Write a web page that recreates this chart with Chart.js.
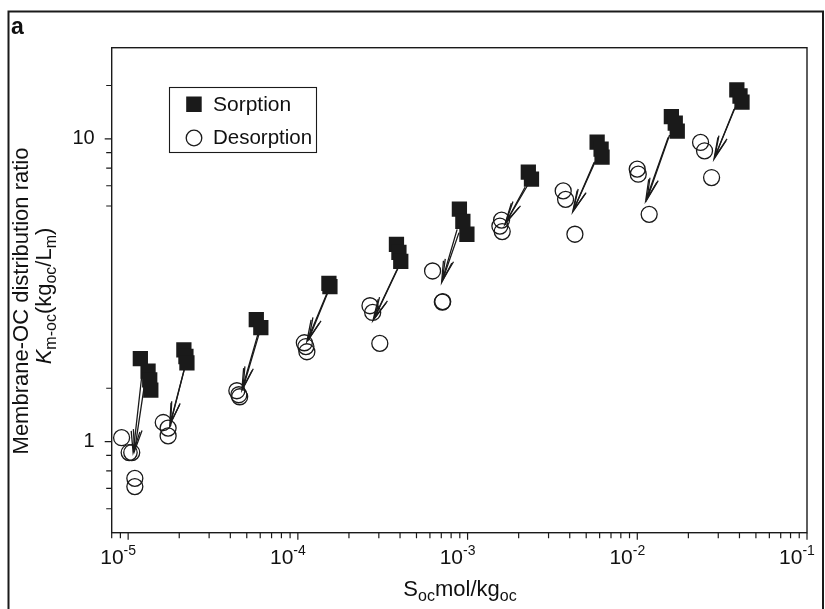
<!DOCTYPE html>
<html lang="en">
<head>
    <meta charset="UTF-8">
    <title>Membrane-OC distribution ratio</title>
    <script src="https://cdn.jsdelivr.net/npm/chart.js"></script>
    <style>
        body {
            margin: 0;
            background: #fff;
        }
        #wrap {
            width: 825px;
            height: 609px;
            position: relative;
        }
    </style>
</head>
<body>
    <div id="wrap">
        <canvas id="myChart" width="825" height="609"></canvas>
    </div>

    <script>
        // Sorption points (filled squares)
        const sorptionX = [1.18e-5, 1.31e-5, 1.34e-5, 1.36e-5, 2.13e-5, 2.19e-5, 2.22e-5, 5.69e-5, 6.05e-5,
            1.524e-4, 1.545e-4, 3.81e-4, 3.94e-4, 4.04e-4, 8.95e-4, 9.38e-4, 9.91e-4, 2.28e-3, 2.38e-3,
            5.80e-3, 6.12e-3, 6.20e-3, 1.588e-2, 1.674e-2, 1.72e-2, 3.86e-2, 4.03e-2, 4.14e-2];
        const sorptionY = [1.88, 1.71, 1.60, 1.48, 2.01, 1.91, 1.82, 2.53, 2.38,
            3.33, 3.25, 4.48, 4.22, 3.94, 5.86, 5.34, 4.84, 7.76, 7.36,
            9.75, 9.25, 8.70, 11.85, 11.27, 10.6, 14.5, 13.85, 13.23];

        // Desorption points (open circles)
        const desorptionX = [9.15e-6, 1.014e-5, 1.05e-5, 1.095e-5, 1.095e-5, 1.61e-5, 1.72e-5, 1.72e-5,
            4.37e-5, 4.49e-5, 4.54e-5, 1.092e-4, 1.115e-4, 1.13e-4, 2.66e-4, 2.76e-4, 3.04e-4,
            6.22e-4, 7.10e-4, 7.14e-4, 1.586e-3, 1.55e-3, 1.60e-3, 3.66e-3, 3.78e-3, 4.29e-3,
            9.99e-3, 1.013e-2, 1.175e-2, 2.36e-2, 2.49e-2, 2.74e-2];
        const desorptionY = [1.03, 0.92, 0.92, 0.756, 0.71, 1.156, 1.108, 1.044,
            1.472, 1.428, 1.406, 2.12, 2.06, 1.98, 2.81, 2.67, 2.11,
            3.66, 2.89, 2.90, 5.39, 5.15, 4.94, 6.73, 6.31, 4.84,
            7.94, 7.64, 5.63, 9.73, 9.13, 7.45];

        // Arrows from sorption to desorption (start -> tip)
        const arrowX0 = [1.2e-5, 1.25e-5, 2.14e-5, 2.18e-5, 5.81e-5, 5.95e-5, 1.48e-4, 1.5e-4, 3.84e-4, 3.95e-4,
            8.68e-4, 8.9e-4, 2.18e-3, 2.25e-3, 5.57e-3, 5.7e-3, 1.52e-2, 1.55e-2, 3.72e-2, 3.8e-2];
        const arrowY0 = [1.625, 1.55, 1.73, 1.80, 2.26, 2.3, 3.08, 3.1, 3.70, 3.8,
            5.02, 4.9, 6.92, 7.0, 8.37, 8.5, 10.1, 10.3, 12.54, 12.8];
        const arrowX1 = [1.07e-5, 1.09e-5, 1.76e-5, 1.78e-5, 4.68e-5, 4.75e-5, 1.13e-4, 1.16e-4, 2.77e-4, 2.82e-4,
            7.03e-4, 7.1e-4, 1.66e-3, 1.68e-3, 4.16e-3, 4.2e-3, 1.12e-2, 1.14e-2, 2.83e-2, 2.86e-2];
        const arrowY1 = [0.918, 0.93, 1.136, 1.15, 1.48, 1.50, 2.14, 2.18, 2.51, 2.55,
            3.35, 3.4, 5.22, 5.3, 5.73, 5.8, 6.23, 6.3, 8.57, 8.7];

        // Axis ticks
        const xMajorTicks = [1e-5, 1e-4, 1e-3, 1e-2, 1e-1];
        const xTickExponents = ['-5', '-4', '-3', '-2', '-1'];
        const xMinorTicks = [8e-6, 9e-6,
            2e-5, 3e-5, 4e-5, 5e-5, 6e-5, 7e-5, 8e-5, 9e-5,
            2e-4, 3e-4, 4e-4, 5e-4, 6e-4, 7e-4, 8e-4, 9e-4,
            2e-3, 3e-3, 4e-3, 5e-3, 6e-3, 7e-3, 8e-3, 9e-3,
            2e-2, 3e-2, 4e-2, 5e-2, 6e-2, 7e-2, 8e-2, 9e-2];
        const yMajorTicks = [1, 10];
        const yTickLabels = ['1', '10'];
        const yMinorTicks = [0.6, 0.7, 0.8, 0.9, 1.5, 6, 7, 8, 9, 15];

        const ink = '#1a1a1a';
        const fam = '"Liberation Sans", Arial, Helvetica, sans-serif';

        function toPoints(xs, ys) {
            return xs.map((x, i) => ({ x: x, y: ys[i] }));
        }

        function drawRich(ctx, parts, x, y, align) {
            let w = 0;
            parts.forEach(p => { ctx.font = p.font; w += ctx.measureText(p.t).width; });
            let cx = align === 'center' ? x - w / 2 : (align === 'right' ? x - w : x);
            parts.forEach(p => {
                ctx.font = p.font;
                ctx.fillText(p.t, cx, y + (p.dy || 0));
                cx += ctx.measureText(p.t).width;
            });
        }

        function drawArrow(ctx, x0, y0, x1, y1) {
            const ang = Math.atan2(y1 - y0, x1 - x0);
            const len = 22, spread = 0.2;
            ctx.beginPath();
            ctx.moveTo(x0, y0);
            ctx.lineTo(x1, y1);
            ctx.moveTo(x1 - len * Math.cos(ang - spread), y1 - len * Math.sin(ang - spread));
            ctx.lineTo(x1, y1);
            ctx.lineTo(x1 - len * Math.cos(ang + spread), y1 - len * Math.sin(ang + spread));
            ctx.stroke();
        }

        const decorations = {
            id: 'decorations',
            beforeDatasetsDraw(chart) {
                const ctx = chart.ctx, xs = chart.scales.x, ys = chart.scales.y;
                ctx.save();
                ctx.strokeStyle = ink;
                ctx.lineWidth = 1.3;
                for (let i = 0; i < arrowX0.length; i++) {
                    drawArrow(ctx,
                        xs.getPixelForValue(arrowX0[i]), ys.getPixelForValue(arrowY0[i]),
                        xs.getPixelForValue(arrowX1[i]), ys.getPixelForValue(arrowY1[i]));
                }
                ctx.restore();
            },
            afterDatasetsDraw(chart) {
                const ctx = chart.ctx, a = chart.chartArea;
                const xs = chart.scales.x, ys = chart.scales.y;
                ctx.save();
                ctx.strokeStyle = ink;
                ctx.fillStyle = '#111';

                // plot frame
                ctx.lineWidth = 1.4;
                ctx.strokeRect(a.left, a.top, a.right - a.left, a.bottom - a.top);

                // tick marks
                ctx.lineWidth = 1.2;
                ctx.beginPath();
                xMajorTicks.forEach(v => { const p = xs.getPixelForValue(v); ctx.moveTo(p, a.bottom); ctx.lineTo(p, a.bottom + 7); });
                xMinorTicks.forEach(v => { const p = xs.getPixelForValue(v); ctx.moveTo(p, a.bottom); ctx.lineTo(p, a.bottom + 5.5); });
                yMajorTicks.forEach(v => { const p = ys.getPixelForValue(v); ctx.moveTo(a.left, p); ctx.lineTo(a.left - 7, p); });
                yMinorTicks.forEach(v => { const p = ys.getPixelForValue(v); ctx.moveTo(a.left, p); ctx.lineTo(a.left - 5.5, p); });
                ctx.stroke();

                // tick labels
                ctx.textBaseline = 'alphabetic';
                xMajorTicks.forEach((v, i) => {
                    const p = xs.getPixelForValue(v);
                    drawRich(ctx, [
                        { t: '10', font: '21px ' + fam },
                        { t: xTickExponents[i], font: '14px ' + fam, dy: -9 }
                    ], p - 10, a.bottom + 31, 'center');
                });
                ctx.textBaseline = 'middle';
                ctx.textAlign = 'right';
                ctx.font = '20px ' + fam;
                yMajorTicks.forEach((v, i) => {
                    ctx.fillText(yTickLabels[i], a.left - 17, ys.getPixelForValue(v));
                });
                ctx.textAlign = 'left';
                ctx.textBaseline = 'alphabetic';

                // x title
                drawRich(ctx, [
                    { t: 'S', font: '22px ' + fam },
                    { t: 'oc', font: '16px ' + fam, dy: 5 },
                    { t: 'mol/kg', font: '22px ' + fam },
                    { t: 'oc', font: '16px ' + fam, dy: 5 }
                ], 460, 596, 'center');

                // y titles
                ctx.save();
                ctx.translate(28, 301);
                ctx.rotate(-Math.PI / 2);
                drawRich(ctx, [{ t: 'Membrane-OC distribution ratio', font: '22px ' + fam }], 0, 0, 'center');
                ctx.restore();
                ctx.save();
                ctx.translate(51, 296);
                ctx.rotate(-Math.PI / 2);
                drawRich(ctx, [
                    { t: 'K', font: 'italic 22px ' + fam },
                    { t: 'm-oc', font: '16px ' + fam, dy: 5 },
                    { t: '(kg', font: '22px ' + fam },
                    { t: 'oc', font: '16px ' + fam, dy: 5 },
                    { t: '/L', font: '22px ' + fam },
                    { t: 'm', font: '16px ' + fam, dy: 5 },
                    { t: ')', font: '22px ' + fam }
                ], 0, 0, 'center');
                ctx.restore();

                // legend
                ctx.lineWidth = 1.1;
                ctx.strokeRect(169.5, 87.5, 147, 65);
                ctx.fillStyle = ink;
                ctx.fillRect(186.2, 96.5, 15.5, 15.5);
                ctx.beginPath();
                ctx.arc(194, 138, 7.8, 0, Math.PI * 2);
                ctx.lineWidth = 1.3;
                ctx.stroke();
                ctx.fillStyle = '#111';
                ctx.font = '21px ' + fam;
                ctx.fillText('Sorption', 213, 110.5);
                ctx.font = '20.5px ' + fam;
                ctx.fillText('Desorption', 213, 144);

                // panel letter
                ctx.font = 'bold 23px ' + fam;
                ctx.fillText('a', 11, 34);

                // outer frame
                ctx.lineWidth = 2;
                ctx.beginPath();
                ctx.moveTo(8.5, 609);
                ctx.lineTo(8.5, 11.5);
                ctx.lineTo(823, 11.5);
                ctx.lineTo(823, 609);
                ctx.stroke();
                ctx.restore();
            }
        };

        const ctx = document.getElementById('myChart').getContext('2d');
        const myChart = new Chart(ctx, {
            type: 'scatter',
            data: {
                datasets: [{
                    label: 'Desorption',
                    data: toPoints(desorptionX, desorptionY),
                    pointStyle: 'circle',
                    pointRadius: 8,
                    pointBorderWidth: 1.3,
                    pointBorderColor: ink,
                    pointBackgroundColor: 'rgba(0,0,0,0)'
                }, {
                    label: 'Sorption',
                    data: toPoints(sorptionX, sorptionY),
                    pointStyle: 'rect',
                    pointRadius: 10.8,
                    pointBorderWidth: 0,
                    pointBackgroundColor: ink
                }]
            },
            options: {
                responsive: false,
                animation: false,
                events: [],
                layout: {
                    padding: { left: 111.7, top: 47.7, right: 18, bottom: 76.3 }
                },
                plugins: {
                    legend: { display: false },
                    tooltip: { enabled: false }
                },
                scales: {
                    x: {
                        type: 'logarithmic',
                        display: false,
                        min: 8e-6,
                        max: 0.1
                    },
                    y: {
                        type: 'logarithmic',
                        display: false,
                        min: 0.5,
                        max: 20
                    }
                }
            },
            plugins: [decorations]
        });
    </script>
</body>
</html>
